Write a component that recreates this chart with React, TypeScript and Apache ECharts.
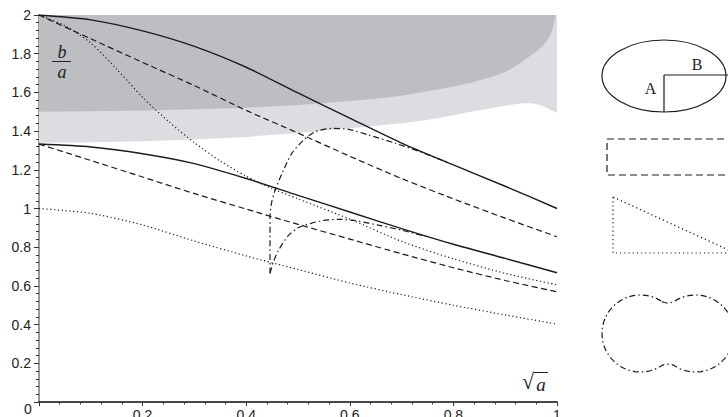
import React, { useEffect, useRef } from 'react';
import * as echarts from 'echarts';

// ---- data ----
const xTickValues = [0, 0.2, 0.4, 0.6, 0.8, 1];
const yTickValues = [0, 0.2, 0.4, 0.6, 0.8, 1, 1.2, 1.4, 1.6, 1.8, 2];

const darkRegionLower: [number, number][] = [
  [0, 1.5], [0.1, 1.503], [0.2, 1.507], [0.3, 1.513], [0.4, 1.521], [0.5, 1.535],
  [0.6, 1.555], [0.65, 1.567], [0.7, 1.583], [0.736, 1.6], [0.77, 1.615], [0.8, 1.63],
  [0.835, 1.65], [0.865, 1.673], [0.885, 1.69], [0.9, 1.706], [0.915, 1.728],
  [0.929, 1.752], [0.94, 1.772], [0.95, 1.792], [0.96, 1.812], [0.968, 1.83],
  [0.975, 1.848], [0.98, 1.865], [0.985, 1.885], [0.989, 1.91], [0.992, 1.935],
  [0.995, 1.965], [0.997, 2.0], [1.0, 2.0],
];
const lightRegionLower: [number, number][] = [
  [0, 1.34], [0.1, 1.343], [0.2, 1.348], [0.3, 1.357], [0.4, 1.37], [0.5, 1.39],
  [0.6, 1.415], [0.7, 1.44], [0.736, 1.452], [0.77, 1.466], [0.8, 1.482], [0.833, 1.5],
  [0.86, 1.512], [0.88, 1.522], [0.9, 1.531], [0.915, 1.538], [0.929, 1.542],
  [0.94, 1.544], [0.95, 1.544], [0.958, 1.541], [0.966, 1.535], [0.974, 1.527],
  [0.982, 1.518], [0.99, 1.507], [0.995, 1.5], [1.0, 1.495],
];

const solidUpper: [number, number][] = [
  [0, 2.0], [0.1, 1.975], [0.2, 1.918], [0.3, 1.838], [0.4, 1.73], [0.5, 1.597],
  [0.6, 1.467], [0.7, 1.338], [0.8, 1.225], [0.9, 1.115], [1.0, 1.0],
];
const dashedUpper: [number, number][] = [
  [0, 2.0], [0.1, 1.877], [0.2, 1.755], [0.3, 1.635], [0.4, 1.507], [0.5, 1.39],
  [0.6, 1.27], [0.7, 1.155], [0.8, 1.05], [0.9, 0.95], [1.0, 0.854],
];
const dottedUpper: [number, number][] = [
  [0, 2.0], [0.05, 1.945], [0.1, 1.855], [0.15, 1.72], [0.2, 1.575], [0.25, 1.45],
  [0.3, 1.34], [0.35, 1.245], [0.4, 1.167], [0.45, 1.103], [0.5, 1.05], [0.6, 0.945],
  [0.7, 0.83], [0.8, 0.74], [0.9, 0.665], [1.0, 0.605],
];
const solidLower: [number, number][] = [
  [0, 1.333], [0.1, 1.318], [0.2, 1.283], [0.3, 1.232], [0.4, 1.155], [0.5, 1.068],
  [0.6, 0.982], [0.7, 0.896], [0.8, 0.815], [0.9, 0.742], [1.0, 0.668],
];
const dashedLower: [number, number][] = [
  [0, 1.333], [0.1, 1.248], [0.2, 1.163], [0.3, 1.077], [0.4, 0.997], [0.5, 0.918],
  [0.6, 0.842], [0.7, 0.766], [0.8, 0.694], [0.9, 0.628], [1.0, 0.57],
];
const dottedLower: [number, number][] = [
  [0, 1.0], [0.1, 0.975], [0.2, 0.915], [0.3, 0.832], [0.4, 0.755], [0.5, 0.685],
  [0.6, 0.615], [0.7, 0.555], [0.8, 0.5], [0.9, 0.45], [1.0, 0.403],
];
const dashDotLowerBranch: [number, number][] = [
  [0.446, 0.665], [0.452, 0.72], [0.4625, 0.785], [0.482, 0.862], [0.5, 0.9],
  [0.514, 0.915], [0.546, 0.937], [0.578, 0.944], [0.611, 0.937], [0.662, 0.91],
  [0.7, 0.888], [0.75, 0.853],
];
const dashDotUpperBranch: [number, number][] = [
  [0.446, 0.665], [0.446, 0.96], [0.449, 1.03], [0.456, 1.096], [0.469, 1.18],
  [0.488, 1.285], [0.511, 1.354], [0.533, 1.397], [0.566, 1.414], [0.598, 1.409],
  [0.636, 1.38], [0.688, 1.337], [0.739, 1.29], [0.79, 1.237],
];

const INK = '#1c1c1c';
const DARK_FILL = '#bdbec2';
const LIGHT_FILL = '#dcdde0';
const SANS = '"Liberation Sans", Arial, sans-serif';
const SERIF = '"Liberation Serif", "Times New Roman", serif';

function peanutPoints(cx: number, cy: number): number[][] {
  // two lobes joined by concave fillets (decoration only)
  const R = 38.5, d = 27.5, r = 12.75, Y = 43.25;
  const pts: number[][] = [];
  const ux = d / (R + r), uy = Y / (R + r);
  const a0 = Math.atan2(-uy, ux);
  const N = 60;
  const startL = a0, endL = -a0 - 2 * Math.PI;
  for (let i = 0; i <= N; i++) {
    const t = startL + (endL - startL) * (i / N);
    pts.push([cx - d + R * Math.cos(t), cy + R * Math.sin(t)]);
  }
  const fb0 = Math.atan2(-uy, -ux), fb1 = Math.atan2(-uy, ux);
  for (let i = 1; i < 12; i++) {
    const t = fb0 + (fb1 - fb0) * (i / 12);
    pts.push([cx + r * Math.cos(t), cy + Y + r * Math.sin(t)]);
  }
  const sR = Math.atan2(uy, -ux), eR = sR - (2 * Math.PI - 2 * Math.atan2(uy, ux));
  for (let i = 0; i <= N; i++) {
    const t = sR + (eR - sR) * (i / N);
    pts.push([cx + d + R * Math.cos(t), cy + R * Math.sin(t)]);
  }
  const ft0 = Math.atan2(uy, ux), ft1 = Math.atan2(uy, -ux);
  for (let i = 1; i < 12; i++) {
    const t = ft0 + (ft1 - ft0) * (i / 12);
    pts.push([cx + r * Math.cos(t), cy - Y + r * Math.sin(t)]);
  }
  return pts;
}

function lineSeries(data: [number, number][], type: any, width = 1.2) {
  return {
    type: 'line',
    data,
    symbol: 'none',
    silent: true,
    smooth: 0.25,
    z: 5,
    lineStyle: { color: INK, width, type },
  };
}

export default function App() {
  const ref = useRef<HTMLDivElement>(null);
  useEffect(() => {
    if (!ref.current) return;
    const chart = echarts.init(ref.current, undefined, { renderer: 'svg' });
    const fmt = (v: number) => (v === 0 ? '' : String(Math.round(v * 10) / 10));
    const textStyle = (text: string, x: number, y: number, font: string) => ({
      text, x, y, font, fill: '#222', textAlign: 'center', textVerticalAlign: 'middle',
    });
    chart.setOption({
      animation: false,
      backgroundColor: '#ffffff',
      grid: { left: 39, right: 171, top: 15, bottom: 15, containLabel: false, outerBoundsMode: 'none' },
      xAxis: [
        {
          type: 'value', min: xTickValues[0], max: xTickValues[xTickValues.length - 1], interval: 0.2,
          axisLine: { show: true, onZero: false, lineStyle: { color: '#4a4a4a', width: 1.6 } },
          axisTick: { show: true, length: 4, lineStyle: { color: '#333', width: 1 } },
          minorTick: { show: true, splitNumber: 5, length: 2.5, lineStyle: { color: '#333', width: 1 } },
          splitLine: { show: false },
          axisLabel: { margin: 6, fontSize: 14, fontFamily: SANS, color: '#222', formatter: fmt },
        },
        {
          type: 'value', position: 'top', min: 0, max: 1,
          axisLine: { show: true, lineStyle: { color: '#3a3a3a', width: 1.6 } },
          axisTick: { show: false }, axisLabel: { show: false }, splitLine: { show: false },
        },
      ],
      yAxis: [
        {
          type: 'value', min: yTickValues[0], max: yTickValues[yTickValues.length - 1], interval: 0.2,
          axisLine: { show: true, onZero: false, lineStyle: { color: '#4a4a4a', width: 1.6 } },
          axisTick: { show: true, length: 5, lineStyle: { color: '#333', width: 1 } },
          minorTick: { show: true, splitNumber: 5, length: 3, lineStyle: { color: '#333', width: 1 } },
          splitLine: { show: false },
          axisLabel: { margin: 8, fontSize: 14, fontFamily: SANS, color: '#222', formatter: fmt },
        },
        {
          type: 'value', position: 'right', min: 0, max: 2,
          axisLine: { show: true, lineStyle: { color: '#9a9a9a', width: 2 } },
          axisTick: { show: false }, axisLabel: { show: false }, splitLine: { show: false },
        },
      ],
      series: [
        {
          type: 'line', data: lightRegionLower, symbol: 'none', silent: true, smooth: false, z: 1,
          lineStyle: { width: 0, color: LIGHT_FILL },
          areaStyle: { origin: 'end', color: LIGHT_FILL, opacity: 1 },
        },
        {
          type: 'line', data: darkRegionLower, symbol: 'none', silent: true, smooth: false, z: 2,
          lineStyle: { width: 0, color: DARK_FILL },
          areaStyle: { origin: 'end', color: DARK_FILL, opacity: 1 },
        },
        lineSeries(solidUpper, 'solid', 1.4),
        lineSeries(dashedUpper, [6, 3.5], 1.2),
        lineSeries(dottedUpper, [1.2, 2.6], 1.2),
        lineSeries(solidLower, 'solid', 1.4),
        lineSeries(dashedLower, [6, 3.5], 1.2),
        lineSeries(dottedLower, [1.2, 2.6], 1.2),
        lineSeries(dashDotLowerBranch, [6, 3, 1.5, 3], 1.2),
        lineSeries(dashDotUpperBranch, [6, 3, 1.5, 3], 1.2),
      ],
      graphic: [
        // axis titles
        { type: 'text', z: 10, style: textStyle('b', 62, 51.5, `italic 18px ${SERIF}`) },
        { type: 'line', z: 10, shape: { x1: 52, y1: 61.5, x2: 71, y2: 61.5 }, style: { stroke: '#222', lineWidth: 1 } },
        { type: 'text', z: 10, style: textStyle('a', 62, 72, `italic 18px ${SERIF}`) },
        { type: 'text', z: 10, style: textStyle('√', 528, 381, `22px ${SERIF}`) },
        { type: 'line', z: 10, shape: { x1: 534, y1: 372.5, x2: 548, y2: 372.5 }, style: { stroke: '#222', lineWidth: 1 } },
        { type: 'text', z: 10, style: textStyle('a', 541, 384, `italic 19px ${SERIF}`) },
        { type: 'text', z: 10, style: textStyle('0', 28, 409, `14px ${SANS}`) },
        // shape key on the right
        { type: 'ellipse', shape: { cx: 664, cy: 76, rx: 62, ry: 36 }, style: { fill: 'none', stroke: INK, lineWidth: 1.2 } },
        { type: 'line', shape: { x1: 664, y1: 75, x2: 664, y2: 112 }, style: { stroke: INK, lineWidth: 1.2 } },
        { type: 'line', shape: { x1: 664, y1: 75, x2: 732, y2: 75 }, style: { stroke: INK, lineWidth: 1.2 } },
        { type: 'text', style: textStyle('A', 650.5, 88, `16px ${SERIF}`) },
        { type: 'text', style: textStyle('B', 697, 64, `16px ${SERIF}`) },
        { type: 'rect', shape: { x: 607, y: 139, width: 140, height: 36 }, style: { fill: 'none', stroke: INK, lineWidth: 1.2, lineDash: [7, 4] } },
        { type: 'polygon', shape: { points: [[613, 197], [613, 253], [735, 253]] }, style: { fill: 'none', stroke: INK, lineWidth: 1.2, lineDash: [1.2, 3] } },
        { type: 'polygon', shape: { points: peanutPoints(668, 333.5) }, style: { fill: 'none', stroke: INK, lineWidth: 1.2, lineDash: [6, 3, 1.5, 3] } },
      ],
    });
    return () => chart.dispose();
  }, []);
  return (
    <div
      ref={ref}
      style={{ position: 'fixed', left: 0, top: 0, width: 728, height: 417, background: '#fff' }}
    />
  );
}
